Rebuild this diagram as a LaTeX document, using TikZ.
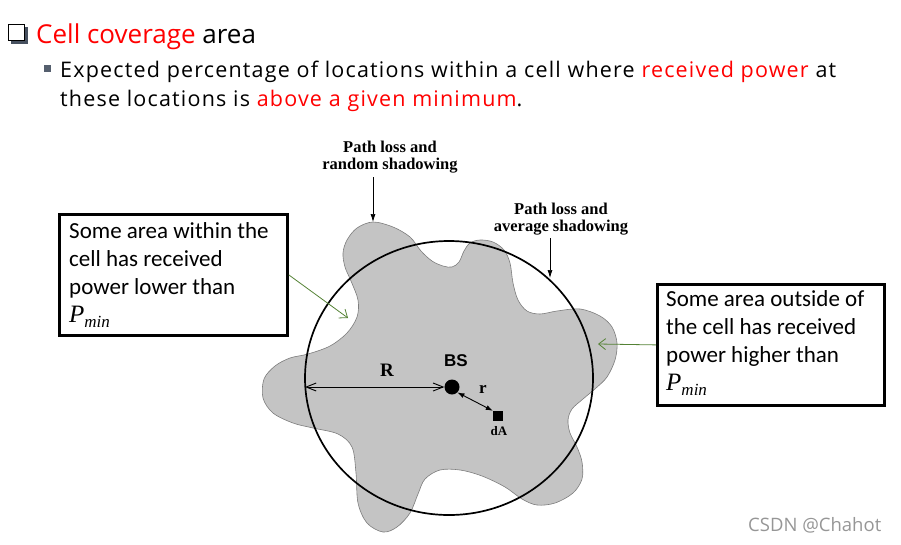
\documentclass[tikz,border=0pt]{standalone}
\usepackage{fontspec}
\setmainfont{Open Sans}
\newfontfamily\calib{Carlito}
\newfontfamily\tms{Liberation Serif}
\newfontfamily\hlv{Liberation Sans}
\newfontfamily\widesans[LetterSpace=5.5]{Open Sans}
\usetikzlibrary{arrows.meta,shapes.geometric}
\definecolor{blobgray}{RGB}{196,196,196}
\definecolor{blobedge}{RGB}{125,125,125}
\definecolor{callgreen}{RGB}{84,130,53}
\definecolor{bulletgray}{RGB}{85,95,110}
\definecolor{shadowgray}{RGB}{70,80,95}
\definecolor{wmgray}{RGB}{150,150,150}
\newcommand{\pmin}{{\tms\itshape\fontsize{25}{25}\selectfont P\raisebox{-5pt}{\fontsize{17}{17}\selectfont min}}}
\begin{document}
\begin{tikzpicture}[x=1pt,y=-1pt,
  txt/.style={inner sep=0pt, anchor=base west},
  callbox/.style={draw, line width=2.8pt, inner sep=0pt, anchor=north west},
  boxtext/.style={inner sep=0pt, anchor=base west, align=left,
     font=\calib\fontsize{23}{28}\selectfont},
  greenarrow/.style={draw=callgreen, line width=0.8pt, -{Straight Barb[length=7pt,width=11pt]}},
  plabel/.style={inner sep=0pt, align=center, font=\tms\bfseries\fontsize{16.5}{17}\selectfont},
  blackarrow/.style={line width=0.7pt, -{Latex[length=8pt,width=5pt]}},
]
\useasboundingbox (0,0) rectangle (901,544);

% heading
\fill[shadowgray] (11,27) rectangle (27.5,43.5);
\draw[fill=white, line width=1.1pt] (8.5,24.5) rectangle (24.5,40.5);
\node[txt, font=\fontsize{26}{30}\selectfont] (title) at (36,43)
  {\textcolor{red}{Cell coverage} area};
\fill[bulletgray] (44,65) rectangle (50.5,71.5);
\node[txt, font=\widesans\fontsize{21.5}{28}\selectfont] (line1) at (60,77)
  {Expected percentage of locations within a cell where \textcolor{red}{received power} at};
\node[txt, font=\widesans\fontsize{21.5}{28}\selectfont] (line2) at (60,106)
  {these locations is \textcolor{red}{above a given minimum}.};

% blob
\filldraw[fill=blobgray, draw=blobedge, line width=0.6pt]
  plot[smooth cycle, tension=0.55] coordinates {
   (373,222) (393,227) (410,237) (421,251) (432,261) (443,266) (452,267)
   (459,262) (464,251) (470,243) (480,240) (493,242) (504,250) (510,263)
   (513,283) (518,300) (527,311) (540,314) (557,311) (580,309) (600,316)
   (612,327) (617,343) (615,360) (607,377) (596,388) (583,399) (572,409)
   (568,420) (570,433) (577,447) (582,462) (582,479) (573,493) (555,503)
   (537,505) (522,499) (505,487) (482,476) (460,470) (440,470) (425,479)
   (418,494) (410,513) (397,527) (383,532) (367,523) (358,503) (356,473)
   (352,447) (338,434) (313,428) (293,423) (273,413) (263,398) (264,379)
   (275,366) (290,358) (308,354) (330,346) (347,333) (357,317) (358,300)
   (351,281) (345,267) (343,253) (347,240) (357,228)
  };

% cell boundary
\node[ellipse, draw, line width=1.7pt, minimum width=288pt, minimum height=274pt,
      inner sep=0pt] (cell) at (449,378) {};

% base station, dA
\node[circle, fill, minimum size=15pt, inner sep=0pt] (bs) at (452,387) {};
\node[inner sep=0pt, font=\hlv\bfseries\fontsize{17}{17}\selectfont] (bslab) at (456,361) {BS};
\node[rectangle, fill, minimum size=10pt, inner sep=0pt] (da) at (498,416) {};
\node[inner sep=0pt, font=\tms\bfseries\fontsize{13}{13}\selectfont] (dalab) at (499,431) {dA};

% R arrow
\coordinate (rleft) at (305,387);
\draw[line width=0.9pt, {Straight Barb[length=10pt,width=8pt]}-{Straight Barb[length=10pt,width=8pt]}]
  (rleft) -- (bs.west);
\node[inner sep=0pt, font=\tms\bfseries\fontsize{19}{19}\selectfont] (rlab) at (387,370) {R};

% r arrow
\draw[line width=0.9pt, {Latex[length=7pt,width=5pt]}-{Latex[length=7pt,width=5pt]}]
  (bs.south east) -- (da.north west);
\node[inner sep=0pt, font=\tms\bfseries\fontsize{17}{17}\selectfont] (rsmall) at (483,389) {r};

% path loss labels
\node[plabel] (pl1) at (390,157) {Path loss and\\random shadowing};
\coordinate (lobetop) at (373,222);
\draw[blackarrow] (pl1.south -| lobetop) ++(0,4) -- (lobetop);
\node[plabel] (pl2) at (561,219) {Path loss and\\average shadowing};
\coordinate (circpt) at (550,278);
\draw[blackarrow] (pl2.south -| circpt) ++(0,3) -- (circpt);

% callout boxes
\node[callbox, minimum width=228pt, minimum height=121pt] (lbox) at (58,213) {};
\node[boxtext] (ltext) at (69,322)
  {Some area within the\\cell has received\\power lower than\\\pmin};
\coordinate (ltip) at (348,318);
\draw[greenarrow] (lbox.east) -- (ltip);

\node[callbox, minimum width=227pt, minimum height=121pt] (rbox) at (656,283) {};
\node[boxtext] (rtext) at (666,390)
  {Some area outside of\\the cell has received\\power higher than\\\pmin};
\coordinate (rtip) at (598,344);
\draw[greenarrow] (rbox.west) -- (rtip);

% watermark
\node[txt, text=wmgray, font=\fontsize{18.5}{18.5}\selectfont] (wm) at (748,531) {CSDN @Chahot};
\end{tikzpicture}
\end{document}
